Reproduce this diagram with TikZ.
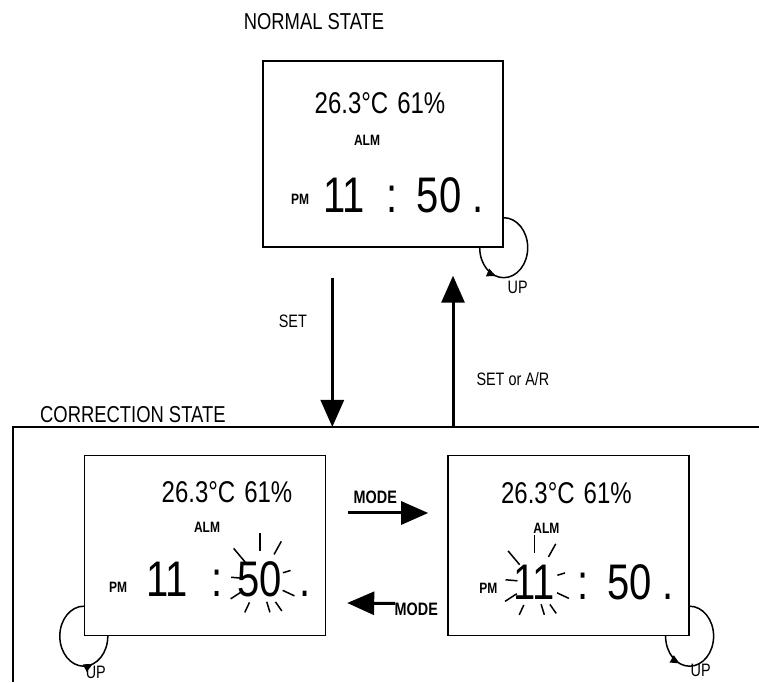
\documentclass[tikz,border=0pt]{standalone}
\usepackage{fontspec}
\setmainfont{Liberation Sans}[FakeStretch=0.8]
\usetikzlibrary{arrows.meta, positioning, calc, decorations.markings}

\tikzset{
  % LCD panels
  display/.style={
    rectangle, draw=black, line width=1.4pt,
    minimum width=241pt, minimum height=180pt, inner sep=0pt,
  },
  lcdtemp/.style={font=\fontsize{30}{30}\selectfont, inner sep=0pt},
  lcdtag/.style={font=\fontsize{15}{15}\selectfont\bfseries, inner sep=0pt},
  lcdbig/.style={font=\fontsize{50}{50}\selectfont, inner sep=0pt, anchor=base},
  % Titles and key names
  statetitle/.style={font=\fontsize{23}{23}\selectfont, inner sep=0pt},
  keylabel/.style={font=\fontsize{18}{18}\selectfont, inner sep=0pt},
  % Frame and arrows
  frameline/.style={line width=1.4pt},
  bigarrow/.style={-{Triangle[length=27pt,width=23pt]}, line width=3pt},
  uploop/.style={
    line width=1.5pt,
    decoration={markings,
      mark=at position #1 with {\arrow{Triangle[length=9pt,width=8pt]}}},
    postaction=decorate,
  },
  % Flashing digit rays
  blink/.pic={
    \foreach \a/\ri/\ro in {90/29/47, 130/23/41, 61/29/44, 17/24/32,
      175/17/29, 213/21/35, -25/25/38, 245/25/36, 287/23/34, 305/27/38}
      \draw[line width=1.5pt] (\a:\ri) -- (\a:\ro);
  },
}

\begin{document}
\begin{tikzpicture}[x=1pt, y=1pt]
  \useasboundingbox (0,0) rectangle (759,682);

  % Normal state
  \node[display, minimum width=240pt, minimum height=186pt] (normal) at (383,528) {};
  \node[statetitle, above=30pt of normal, xshift=-69pt] (normalTitle) {NORMAL STATE};
  \node[lcdtemp] (tempN) at ([shift={(-3,51)}]normal.center) {26.3°C\hspace{9pt}61\%};
  \node[lcdtag] (almN) at ([shift={(-16,14)}]normal.center) {ALM};
  \node[lcdtag] (pmN) at ([shift={(-83,-45)}]normal.center) {PM};
  \node[lcdbig] (hrN) at ([shift={(-39,-59)}]normal.center) {11};
  \node[lcdbig] (colN) at ([shift={(9,-59)}]normal.center) {:};
  \node[lcdbig] (mnN) at ([shift={(56,-59)}]normal.center) {50};
  \node[lcdbig] (dotN) at ([shift={(95,-59)}]normal.center) {.};

  % Correction state frame
  \coordinate (corrNW) at (13,255);
  \draw[frameline] (13,0) -- (corrNW) -- (759,255);
  \node[statetitle, above right=4pt and 27pt of corrNW] (corrTitle) {CORRECTION STATE};

  % Minute correction
  \node[display] (corrL) at (205,136.5) {};
  \node[lcdtemp] (tempL) at ([shift={(22,53.5)}]corrL.center) {26.3°C\hspace{9pt}61\%};
  \node[lcdtag] (almL) at ([shift={(2,18.5)}]corrL.center) {ALM};
  \node[lcdtag] (pmL) at ([shift={(-87,-41.5)}]corrL.center) {PM};
  \node[lcdbig] (hrL) at ([shift={(-38,-51.5)}]corrL.center) {11};
  \node[lcdbig] (colL) at ([shift={(12,-51.5)}]corrL.center) {:};
  \node[lcdbig] (mnL) at ([shift={(55,-51.5)}]corrL.center) {50};
  \node[lcdbig] (dotL) at ([shift={(100,-51.5)}]corrL.center) {.};
  \pic at (mnL.center) {blink};

  % Hour correction
  \node[display, right=121pt of corrL] (corrR) {};
  \node[lcdtemp] (tempR) at ([shift={(-2,52)}]corrR.center) {26.3°C\hspace{9pt}61\%};
  \node[lcdtag] (almR) at ([shift={(-22,17)}]corrR.center) {ALM};
  \node[lcdtag] (pmR) at ([shift={(-80,-43)}]corrR.center) {PM};
  \node[lcdbig] (hrR) at ([shift={(-34,-54)}]corrR.center) {11};
  \node[lcdbig] (colR) at ([shift={(15,-54)}]corrR.center) {:};
  \node[lcdbig] (mnR) at ([shift={(61,-54)}]corrR.center) {50};
  \node[lcdbig] (dotR) at ([shift={(100,-54)}]corrR.center) {.};
  \pic at (hrR.center) {blink};

  % SET / SET or A/R
  \coordinate (setTop) at ($(normal.south west)!0.29!(normal.south east)$);
  \coordinate (retTop) at ($(normal.south west)!0.79!(normal.south east)$);
  \draw[bigarrow] ([yshift=-30pt]setTop) -- (setTop |- corrNW)
    node[keylabel, pos=0.29, left=24pt] {SET};
  \draw[bigarrow] (retTop |- corrNW) -- ([yshift=-28pt]retTop)
    node[keylabel, pos=0.32, right=22pt] {SET or A/R};

  % MODE
  \draw[bigarrow] ([shift={(22,32.5)}]corrL.east) -- ([shift={(-19,32.5)}]corrR.west)
    node[keylabel, pos=0, above right=8pt and 4pt] {\bfseries MODE};
  \draw[bigarrow] ([shift={(-52,-58)}]corrR.west) -- ([shift={(21,-57.5)}]corrL.east)
    node[keylabel, pos=0, below right=-2pt and -2pt] {\bfseries MODE};

  % UP loops
  \draw[uploop=0.27] ([xshift=-24pt]normal.south east)
    arc[start angle=180, end angle=450, x radius=24pt, y radius=30pt];
  \node[keylabel] (upN) at ([shift={(14,-40)}]normal.south east) {UP};
  \draw[uploop=0.74] ([yshift=30pt]corrL.south west)
    arc[start angle=90, end angle=360, x radius=24pt, y radius=30pt];
  \node[keylabel] (upL) at ([shift={(12,-36)}]corrL.south west) {UP};
  \draw[uploop=0.25] ([xshift=-24pt]corrR.south east)
    arc[start angle=180, end angle=450, x radius=24pt, y radius=30pt];
  \node[keylabel] (upR) at ([shift={(11,-34)}]corrR.south east) {UP};

\end{tikzpicture}
\end{document}
